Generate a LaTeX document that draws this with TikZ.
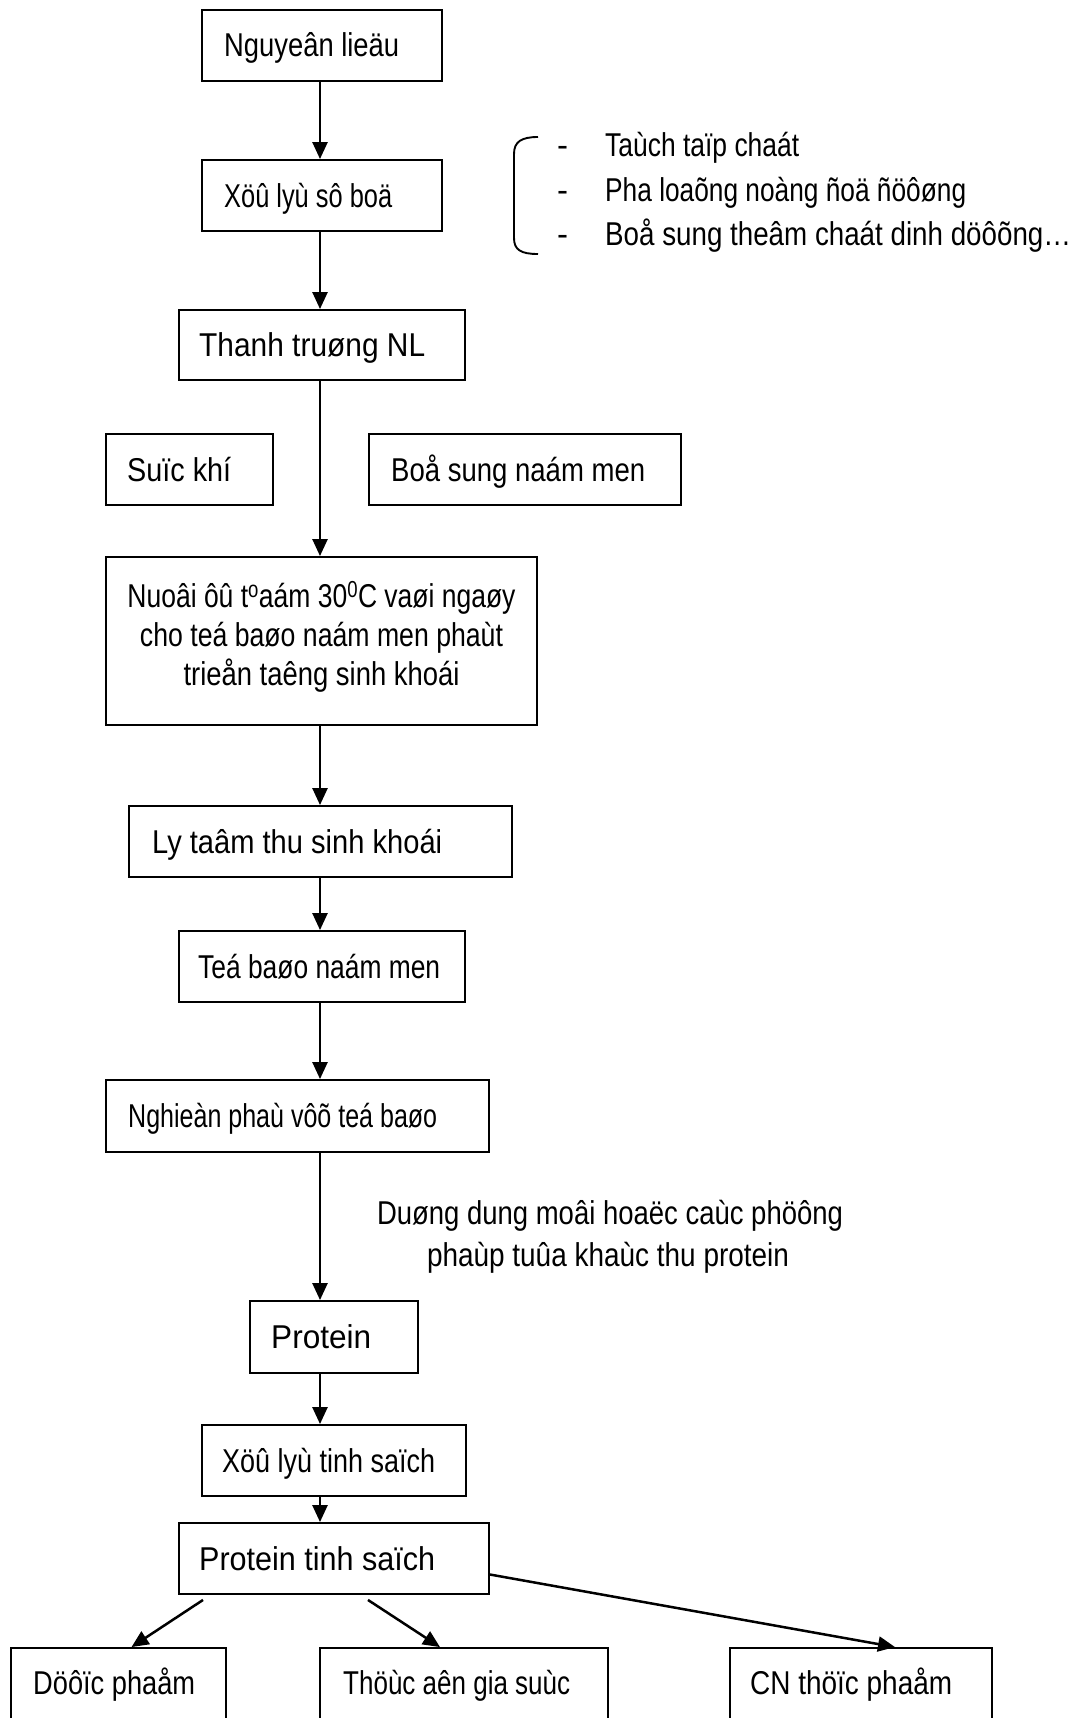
\documentclass[tikz,border=0pt]{standalone}
\usepackage{fontspec}
\setmainfont{Liberation Sans}
\usetikzlibrary{arrows.meta,calc}
\newcommand{\fw}[2]{\resizebox{#1pt}{\height}{#2}}
\newcommand{\mkbox}[5]{\node[box, minimum width={(#4-#2)*1pt}, minimum height={(#5-#3)*1pt}] (#1) at ({(#2+#4)/2},{(#3+#5)/2}) {};}
\begin{document}
\begin{tikzpicture}[x=1pt,y=-1pt,
  box/.style={draw, line width=1.9pt, inner sep=0pt},
  txt/.style={anchor=base west, inner sep=0pt, font=\fontsize{33}{40}\selectfont},
  ctxt/.style={anchor=base, inner sep=0pt, font=\fontsize{33}{40}\selectfont},
  arr/.style={line width=2.5pt, -{Triangle[length=17pt,width=15pt]}},
  brk/.style={line width=1.9pt}]
\useasboundingbox (0,0) rectangle (1075,1718);
\fill[white] (0,0) rectangle (1075,1718);
\clip (0,0) rectangle (1075,1718);
\coordinate (ax) at (320,0);
% boxes
\mkbox{n1}{202}{10}{442}{81}
\mkbox{n2}{202}{160}{442}{231}
\mkbox{n3}{179}{310}{465}{380}
\mkbox{sk}{106}{434}{273}{505}
\mkbox{bs}{369}{434}{681}{505}
\mkbox{n4}{106}{557}{537}{725}
\mkbox{n5}{129}{806}{512}{877}
\mkbox{n6}{179}{931}{465}{1002}
\mkbox{n7}{106}{1080}{489}{1152}
\mkbox{n8}{250}{1301}{418}{1373}
\mkbox{n9}{202}{1425}{466}{1496}
\mkbox{pts}{179}{1523}{489}{1594}
\mkbox{dp}{11}{1648}{226}{1760}
\mkbox{ta}{320}{1648}{608}{1760}
\mkbox{cn}{730}{1648}{992}{1760}
% texts
\node[txt] (t1) at (224,57) {\fw{175}{Nguyeân lieäu}};
\node[txt] (t2) at (224,207) {\fw{168}{Xöû lyù sô boä}};
\node[txt] (t3) at (199,356) {\fw{226}{Thanh truøng NL}};
\node[txt] (t4) at (127,481) {\fw{104}{Suïc khí}};
\node[txt] (t5) at (391,481) {\fw{254}{Boå sung naám men}};
\node[ctxt] (t6a) at (321.5,607) {\fw{388}{Nuoâi ôû t\textsuperscript{o}aám 30\textsuperscript{0}C vaøi ngaøy}};
\node[ctxt] (t6b) at (321.5,646) {\fw{363}{cho teá baøo naám men phaùt}};
\node[ctxt] (t6c) at (321.5,685) {\fw{276}{trieån taêng sinh khoái}};
\node[txt] (t7) at (152,853) {\fw{290}{Ly taâm thu sinh khoái}};
\node[txt] (t8) at (198,978) {\fw{242}{Teá baøo naám men}};
\node[txt] (t9) at (128,1127) {\fw{309}{Nghieàn phaù vôõ teá baøo}};
\node[txt] (t10) at (271,1348) {\fw{100}{Protein}};
\node[txt] (t11) at (222,1472) {\fw{213}{Xöû lyù tinh saïch}};
\node[txt] (t12) at (199,1570) {\fw{236}{Protein tinh saïch}};
\node[txt] (t13) at (33,1694) {\fw{162}{Döôïc phaåm}};
\node[txt] (t14) at (343,1694) {\fw{227}{Thöùc aên gia suùc}};
\node[txt] (t15) at (750,1694) {\fw{202}{CN thöïc phaåm}};
% side list
\node[txt] (d1) at (557,157) {-};
\node[txt] (d2) at (557,201) {-};
\node[txt] (d3) at (557,245) {-};
\node[txt] (l1) at (605,157) {\fw{194}{Taùch taïp chaát}};
\node[txt] (l2) at (605,201) {\fw{361}{Pha loaõng noàng ñoä ñöôøng}};
\node[txt] (l3) at (605,245) {\fw{466}{Boå sung theâm chaát dinh döôõng…}};
\draw[brk] (538,137) .. controls (521,137) and (514,142) .. (514,154) -- (514,238) .. controls (514,250) and (521,254) .. (538,254);
% label
\node[ctxt] (lb1) at (610,1224) {\fw{466}{Duøng dung moâi hoaëc caùc phöông}};
\node[ctxt] (lb2) at (608,1266) {\fw{362}{phaùp tuûa khaùc thu protein}};
% arrows
\draw[arr] (n1.south -| ax) -- (n2.north -| ax);
\draw[arr] (n2.south -| ax) -- (n3.north -| ax);
\draw[arr] (n3.south -| ax) -- (n4.north -| ax);
\draw[arr] (n4.south -| ax) -- (n5.north -| ax);
\draw[arr] (n5.south -| ax) -- (n6.north -| ax);
\draw[arr] (n6.south -| ax) -- (n7.north -| ax);
\draw[arr] (n7.south -| ax) -- (n8.north -| ax);
\draw[arr] (n8.south -| ax) -- (n9.north -| ax);
\draw[arr] (n9.south -| ax) -- (pts.north -| ax);
\draw[arr] ([xshift=-131pt,yshift=-5pt]pts.south) -- ([xshift=13pt]dp.north);
\draw[arr] ([xshift=34pt,yshift=-5pt]pts.south) -- ([xshift=-24pt]ta.north);
\draw[arr] ([yshift=-16pt]pts.east) -- ([xshift=34pt]cn.north);
\end{tikzpicture}
\end{document}
